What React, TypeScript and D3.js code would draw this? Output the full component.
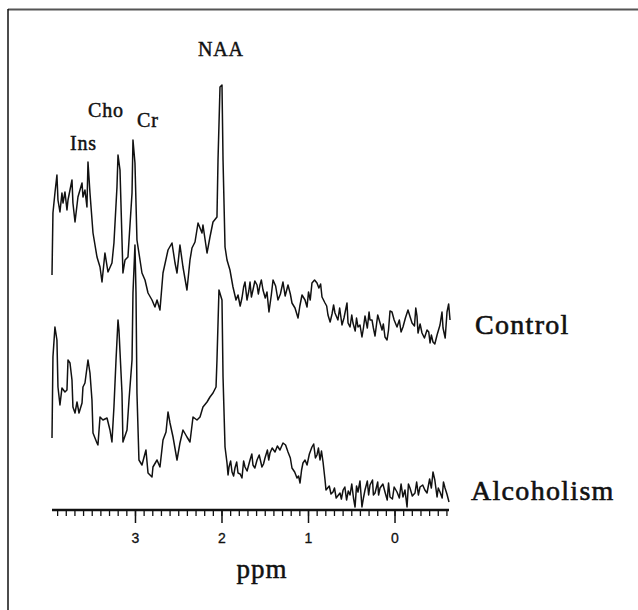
import React from 'react';
import * as d3 from 'd3';

// [ppm, intensity (a.u.)]
const controlSpectrum: [number, number][] = [
  [3.965,23.5],[3.954,29.7],[3.931,31.7],[3.908,33.5],[3.896,31.0],[3.873,29.8],[3.850,31.7],[3.838,30.7],[3.815,31.8],[3.792,30.0],[3.780,31.0],[3.734,33.0],[3.723,30.7],[3.699,28.8],[3.665,31.3],[3.618,32.7],[3.607,31.3],[3.584,32.0],[3.561,30.3],[3.549,34.8],[3.526,31.7],[3.491,27.7],[3.445,25.3],[3.410,24.3],[3.387,22.8],[3.353,25.7],[3.318,23.8],[3.272,24.7],[3.249,26.7],[3.214,32.3],[3.202,35.5],[3.179,34.0],[3.145,23.7],[3.121,25.0],[3.087,25.3],[3.040,31.7],[3.029,37.0],[3.006,34.7],[2.983,27.0],[2.925,23.7],[2.890,23.0],[2.855,21.7],[2.809,21.0],[2.775,20.3],[2.751,21.0],[2.717,20.0],[2.682,23.7],[2.624,26.0],[2.578,26.7],[2.543,24.7],[2.520,23.7],[2.486,26.5],[2.451,24.3],[2.405,22.0],[2.370,25.0],[2.347,26.2],[2.312,26.8],[2.277,28.7],[2.231,27.7],[2.220,28.5],[2.173,25.7],[2.139,27.3],[2.104,28.8],[2.058,29.3],[2.046,35.0],[2.023,42.3],[2.000,42.5],[1.988,35.0],[1.965,26.3],[1.942,25.0],[1.908,24.0],[1.873,22.3],[1.838,21.0],[1.815,21.5],[1.769,21.2],[1.734,22.8],[1.711,21.0],[1.676,22.8],[1.642,22.0],[1.595,22.5],[1.561,22.5],[1.526,22.0],[1.480,21.8],[1.457,19.8],[1.410,23.0],[1.353,21.0],[1.295,22.8],[1.237,22.5],[1.191,20.7],[1.156,20.2],[1.121,19.2],[1.075,21.5],[1.040,21.0],[1.017,20.3],[0.960,22.7],[0.902,22.7],[0.844,21.3],[0.809,20.7],[0.775,19.5],[0.728,19.6],[0.694,19.7],[0.613,18.5],[0.555,20.7],[0.543,18.7],[0.520,18.3],[0.486,18.7],[0.428,18.3],[0.405,18.5],[0.382,17.3],[0.347,19.4],[0.289,19.0],[0.266,19.0],[0.231,17.4],[0.173,18.7],[0.116,17.3],[0.092,17.0],[0.058,19.9],[0.035,19.8],[-0.023,18.3],[-0.092,18.3],[-0.150,20.0],[-0.197,18.7],[-0.254,19.4],[-0.266,17.7],[-0.312,17.7],[-0.370,18.0],[-0.405,16.7],[-0.439,16.8],[-0.486,17.5],[-0.543,19.8],[-0.555,18.2],[-0.601,19.8],[-0.636,19.0],
  [1.790,20.4],[1.750,22.3],[1.690,21.9],[1.660,21.3],[1.620,22.9],[1.580,21.6],[1.545,23.0],[1.500,21.2],[1.430,21.5],[1.380,22.4],[1.325,21.6],[1.270,21.4],[1.210,21.6],[1.100,20.4],[1.000,21.8],[0.980,21.0],[0.930,23.0],[0.880,22.2],[0.860,22.6],[0.790,20.4],[0.750,18.8],[0.710,20.5],[0.660,19.0],[0.640,20.2],[0.590,19.2],[0.500,19.5],[0.460,17.9],[0.445,19.2],[0.365,18.2],[0.320,18.2],[0.300,19.8],[0.250,18.2],[0.200,19.5],[0.150,18.0],[0.135,18.6],[0.075,18.0],[0.010,19.0],[-0.050,19.0],[-0.070,17.8],[-0.120,19.2],[-0.175,19.3],[-0.225,18.4],[-0.240,20.2],[-0.290,18.6],[-0.340,17.2],[-0.390,17.8],[-0.420,17.5],[-0.460,16.6],[-0.520,18.5],[-0.580,17.2],[-0.620,20.6]
];

const alcoholismSpectrum: [number, number][] = [
  [3.965,7.2],[3.954,15.3],[3.931,18.3],[3.908,17.0],[3.896,12.3],[3.873,10.5],[3.850,12.2],[3.815,11.8],[3.792,12.0],[3.780,15.0],[3.757,14.7],[3.734,13.0],[3.723,10.3],[3.699,9.7],[3.676,10.8],[3.653,9.7],[3.618,10.7],[3.607,12.3],[3.584,12.7],[3.549,15.0],[3.526,13.7],[3.503,11.0],[3.491,7.7],[3.445,6.7],[3.434,6.5],[3.410,9.3],[3.376,9.0],[3.329,9.2],[3.295,8.0],[3.272,6.8],[3.249,10.3],[3.225,15.0],[3.202,19.0],[3.191,18.0],[3.156,11.7],[3.145,6.8],[3.098,8.0],[3.075,11.0],[3.040,15.0],[3.029,21.7],[3.006,26.5],[2.994,21.7],[2.983,11.7],[2.960,5.0],[2.925,4.5],[2.879,6.0],[2.855,3.7],[2.809,3.3],[2.798,4.3],[2.751,5.0],[2.717,4.3],[2.682,7.0],[2.647,7.8],[2.624,9.8],[2.601,8.7],[2.566,7.3],[2.520,5.0],[2.486,6.7],[2.451,8.0],[2.405,7.3],[2.370,6.8],[2.335,9.3],[2.289,9.0],[2.254,9.3],[2.220,10.3],[2.173,10.8],[2.139,11.3],[2.104,11.7],[2.069,12.3],[2.058,15.0],[2.035,22.0],[2.000,21.0],[1.988,13.3],[1.965,6.3],[1.942,4.7],[1.919,4.3],[1.884,3.8],[1.850,4.2],[1.815,3.7],[1.769,3.2],[1.734,4.3],[1.676,5.0],[1.642,4.5],[1.595,5.0],[1.538,4.3],[1.503,5.2],[1.445,5.7],[1.387,5.8],[1.295,6.7],[1.237,5.8],[1.191,4.2],[1.133,3.2],[1.098,2.7],[1.064,4.7],[1.017,4.5],[0.960,6.3],[0.902,5.5],[0.867,5.0],[0.832,4.8],[0.809,3.0],[0.798,2.0],[0.760,2.4],[0.717,1.8],[0.680,1.2],[0.636,1.7],[0.600,2.0],[0.560,1.0],[0.520,1.5],[0.462,0.3],[0.428,1.8],[0.382,0.3],[0.347,2.0],[0.289,2.5],[0.231,1.7],[0.173,2.2],[0.116,1.8],[0.058,1.3],[-0.023,1.8],[-0.092,1.3],[-0.139,0.3],[-0.173,2.2],[-0.231,1.7],[-0.289,2.3],[-0.370,1.7],[-0.439,3.8],[-0.486,1.3],[-0.520,1.8],[-0.578,2.2],[-0.624,0.8],
  [1.930,3.5],[1.900,4.9],[1.866,3.4],[1.830,4.8],[1.790,3.6],[1.750,4.9],[1.710,3.9],[1.655,5.6],[1.620,4.2],[1.570,5.5],[1.520,4.6],[1.475,6.0],[1.460,5.0],[1.420,6.2],[1.360,6.4],[1.330,6.0],[1.265,6.5],[1.210,5.2],[1.160,3.8],[1.115,3.4],[1.080,4.0],[1.040,5.0],[0.990,5.6],[0.940,6.6],[0.920,5.2],[0.885,6.2],[0.850,5.9],
  [0.740,1.6],[0.700,2.2],[0.620,1.1],[0.580,2.3],[0.540,1.9],[0.500,2.6],[0.480,1.2],[0.445,2.4],[0.405,2.9],[0.365,1.2],[0.320,2.9],[0.305,1.5],[0.260,3.0],[0.250,1.5],[0.200,2.8],[0.190,1.5],[0.140,2.6],[0.090,1.0],[0.075,2.7],[0.030,1.1],[0.010,2.3],[-0.050,1.2],[-0.070,2.6],[-0.115,2.0],[-0.155,2.6],[-0.200,1.4],[-0.250,2.8],[-0.270,1.5],[-0.320,2.5],[-0.345,2.0],[-0.400,3.1],[-0.420,2.2],[-0.460,3.0],[-0.500,2.2],[-0.545,1.2],[-0.560,2.8],[-0.600,1.6]
];

const majorTickValues = [3, 2, 1, 0];
const tickLabels = ['3', '2', '1', '0'];
const seriesNames = ['Control', 'Alcoholism'];
const peakNames = ['Ins', 'Cho', 'Cr', 'NAA'];
const axisTitle = 'ppm';

export default function App() {
  const W = 638, H = 610;
  const x = d3.scaleLinear().domain([3.965, -0.624]).range([52, 449]);
  const y = d3.scaleLinear().domain([0, 43]).range([510, 80]);
  const line = d3.line<[number, number]>().x(d => x(d[0])).y(d => y(d[1]));
  const byPpm = (a: [number, number][]) => d3.sort(a, (p, q) => q[0] - p[0]);
  const control = byPpm(controlSpectrum);
  const alcoholism = byPpm(alcoholismSpectrum);
  const minorTicks = d3.range(-6, 40).map(v => v / 10);
  const serif = '"Liberation Serif", "Times New Roman", serif';
  const sans = '"Liberation Sans", Arial, sans-serif';

  const peakPos = [
    { x: 70, y: 150 },
    { x: 88, y: 117 },
    { x: 137, y: 127 },
    { x: 198, y: 56 },
  ];
  const seriesPos = [
    { x: 475, y: 334 },
    { x: 471, y: 500 },
  ];

  return (
    <svg width={W} height={H} style={{ position: 'absolute', left: 0, top: 0, background: '#fff' }}>
      <rect x={0} y={0} width={W} height={H} fill="#fff" />
      <line x1={8} y1={9.5} x2={W} y2={9.5} stroke="#555" strokeWidth={2} />
      <line x1={8} y1={9} x2={8} y2={H} stroke="#111" strokeWidth={1.5} />

      <path d={line(control) || ''} fill="none" stroke="#111" strokeWidth={1.5} strokeLinejoin="round" />
      <path d={line(alcoholism) || ''} fill="none" stroke="#111" strokeWidth={1.5} strokeLinejoin="round" />

      <line x1={x(3.965)} y1={y(0)} x2={x(-0.624)} y2={y(0)} stroke="#111" strokeWidth={2.4} />
      {minorTicks.map((t, i) => (
        <line key={'m' + i} x1={x(t)} x2={x(t)} y1={y(0)} y2={y(0) + 6} stroke="#111" strokeWidth={1.3} />
      ))}
      {majorTickValues.map((t, i) => (
        <g key={'M' + i}>
          <line x1={x(t)} x2={x(t)} y1={y(0)} y2={y(0) + 13} stroke="#111" strokeWidth={1.5} />
          <text x={x(t)} y={543} textAnchor="middle" fontFamily={sans} fontSize={14} fill="#111" stroke="#111" strokeWidth={0.3}>{tickLabels[i]}</text>
        </g>
      ))}
      <text x={262} y={578} textAnchor="middle" fontFamily={serif} fontSize={27} letterSpacing={1} fill="#111" stroke="#111" strokeWidth={0.5}>{axisTitle}</text>

      {peakNames.map((n, i) => (
        <text key={n} x={peakPos[i].x} y={peakPos[i].y} fontFamily={serif} fontSize={20} letterSpacing={0.8} fill="#111" stroke="#111" strokeWidth={0.45}>{n}</text>
      ))}
      {seriesNames.map((n, i) => (
        <text key={n} x={seriesPos[i].x} y={seriesPos[i].y} fontFamily={serif} fontSize={28} letterSpacing={1.3} fill="#111" stroke="#111" strokeWidth={0.6}>{n}</text>
      ))}
    </svg>
  );
}
